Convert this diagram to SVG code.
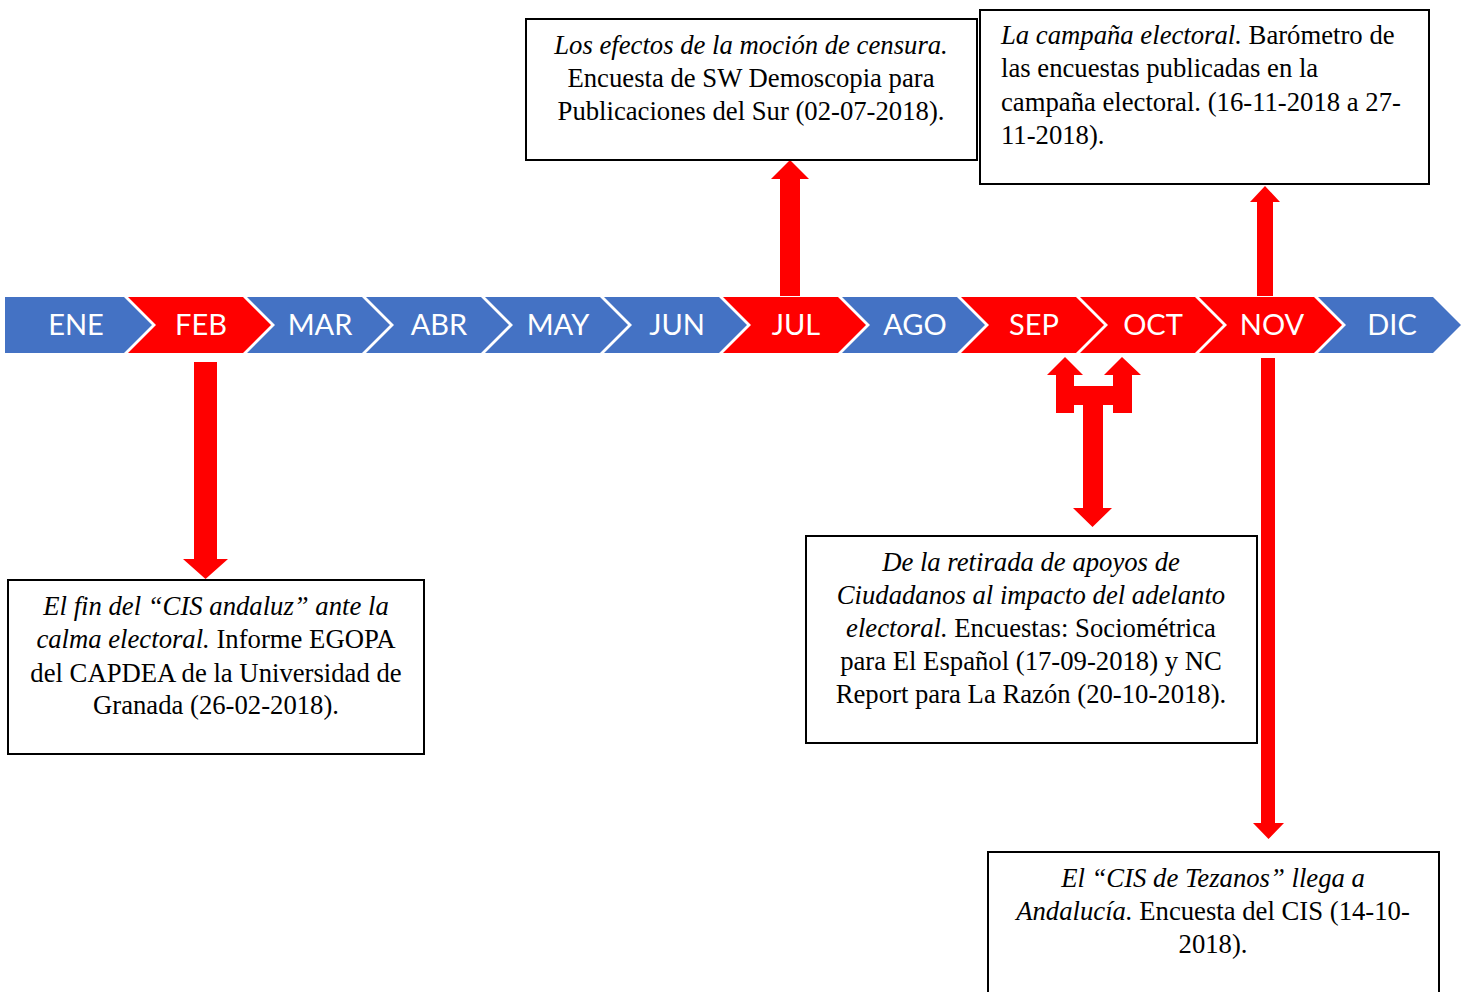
<svg xmlns="http://www.w3.org/2000/svg" width="1468" height="992" viewBox="0 0 1468 992">
<style>
.blue{fill:#4472C4}
.red{fill:#FF0000}
.mon{font-family:Lato,"Open Sans",sans-serif;font-size:29px;fill:#fff;text-anchor:middle}
.box{fill:#fff;stroke:#000;stroke-width:2}
.t{font-family:"Liberation Serif","Times New Roman",serif;font-size:26.7px;fill:#000}
.c{text-anchor:middle}
.i{font-style:italic}
.arr{fill:#FF0000}
</style>
<rect width="1468" height="992" fill="#fff"/>
<g id="timeline">
<g id="m-ene"><polygon class="blue" points="5,297 124,297 152,325 124,353 5,353"/><text class="mon" x="76" y="335">ENE</text></g>
<g id="m-feb"><polygon class="red" points="128,297 243,297 271,325 243,353 128,353 156,325"/><text class="mon" x="201" y="335">FEB</text></g>
<g id="m-mar"><polygon class="blue" points="247,297 362,297 390,325 362,353 247,353 275,325"/><text class="mon" x="320" y="335">MAR</text></g>
<g id="m-abr"><polygon class="blue" points="366,297 481,297 509,325 481,353 366,353 394,325"/><text class="mon" x="439" y="335">ABR</text></g>
<g id="m-may"><polygon class="blue" points="485,297 600,297 628,325 600,353 485,353 513,325"/><text class="mon" x="558" y="335">MAY</text></g>
<g id="m-jun"><polygon class="blue" points="604,297 719,297 747,325 719,353 604,353 632,325"/><text class="mon" x="677" y="335">JUN</text></g>
<g id="m-jul"><polygon class="red" points="723,297 838,297 866,325 838,353 723,353 751,325"/><text class="mon" x="796" y="335">JUL</text></g>
<g id="m-ago"><polygon class="blue" points="842,297 957,297 985,325 957,353 842,353 870,325"/><text class="mon" x="915" y="335">AGO</text></g>
<g id="m-sep"><polygon class="red" points="961,297 1076,297 1104,325 1076,353 961,353 989,325"/><text class="mon" x="1034" y="335">SEP</text></g>
<g id="m-oct"><polygon class="red" points="1080,297 1195,297 1223,325 1195,353 1080,353 1108,325"/><text class="mon" x="1153" y="335">OCT</text></g>
<g id="m-nov"><polygon class="red" points="1199,297 1314,297 1342,325 1314,353 1199,353 1227,325"/><text class="mon" x="1272" y="335">NOV</text></g>
<g id="m-dic"><polygon class="blue" points="1318,297 1433,297 1461,325 1433,353 1318,353 1346,325"/><text class="mon" x="1392" y="335">DIC</text></g>
</g>
<g id="connectors">
<polygon class="arr" points="780,296 780,179 771,179 790,160 809,179 800,179 800,296"/>
<polygon class="arr" points="1257,296 1257,202 1250,202 1265,186 1280,202 1273,202 1273,296"/>
<polygon class="arr" points="194,362 217,362 217,559 228,559 205.5,579 183,559 194,559"/>
<polygon class="arr" points="1261,358 1275,358 1275,823 1284,823 1268.5,839 1253,823 1261,823"/>
<polygon class="arr" points="1056,413 1056,375 1047,375 1065,357 1083,375 1074,375 1074,386 1113,386 1113,375 1104,375 1122,357 1141,375 1132,375 1132,413 1113,413 1113,405 1103,405 1103,508 1112,508 1092.5,527 1073,508 1083,508 1083,405 1074,405 1074,413"/>
</g>
<g id="box-jul">
<rect class="box" x="526" y="19" width="451" height="141"/>
<text class="t c" x="751" y="54"><tspan class="i">Los efectos de la moción de censura.</tspan></text>
<text class="t c" x="751" y="87">Encuesta de SW Demoscopia para</text>
<text class="t c" x="751" y="120">Publicaciones del Sur (02-07-2018).</text>
</g>
<g id="box-nov-top">
<rect class="box" x="980" y="10" width="449" height="174"/>
<text class="t" x="1001" y="44"><tspan class="i">La campaña electoral.</tspan> Barómetro de</text>
<text class="t" x="1001" y="77">las encuestas publicadas en la</text>
<text class="t" x="1001" y="111">campaña electoral. (16-11-2018 a 27-</text>
<text class="t" x="1001" y="144">11-2018).</text>
</g>
<g id="box-feb">
<rect class="box" x="8" y="580" width="416" height="174"/>
<text class="t c" x="216" y="615"><tspan class="i">El fin del “CIS andaluz” ante la</tspan></text>
<text class="t c" x="216" y="648"><tspan class="i">calma electoral.</tspan> Informe EGOPA</text>
<text class="t c" x="216" y="682">del CAPDEA de la Universidad de</text>
<text class="t c" x="216" y="714">Granada (26-02-2018).</text>
</g>
<g id="box-sep-oct">
<rect class="box" x="806" y="536" width="451" height="207"/>
<text class="t c" x="1031" y="571"><tspan class="i">De la retirada de apoyos de</tspan></text>
<text class="t c" x="1031" y="604"><tspan class="i">Ciudadanos al impacto del adelanto</tspan></text>
<text class="t c" x="1031" y="637"><tspan class="i">electoral.</tspan> Encuestas: Sociométrica</text>
<text class="t c" x="1031" y="670">para El Español (17-09-2018) y NC</text>
<text class="t c" x="1031" y="703">Report para La Razón (20-10-2018).</text>
</g>
<g id="box-nov-bottom">
<rect class="box" x="988" y="852" width="451" height="150"/>
<text class="t c" x="1213" y="887"><tspan class="i">El “CIS de Tezanos” llega a</tspan></text>
<text class="t c" x="1213" y="920"><tspan class="i">Andalucía.</tspan> Encuesta del CIS (14-10-</text>
<text class="t c" x="1213" y="953">2018).</text>
</g>
</svg>
